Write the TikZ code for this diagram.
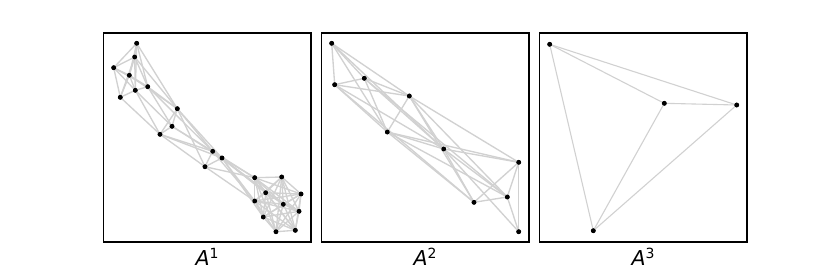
\documentclass[tikz,border=0pt]{standalone}
\usepackage{fontspec}
\setmainfont{DejaVu Sans}
\begin{document}
\begin{tikzpicture}[x=1pt, y=-1pt,
  dot/.style={circle, fill=black, inner sep=0pt, minimum size=4.6pt},
  edge/.style={draw=black!18, line width=1.35pt},
  frame/.style={draw=black, line width=1.1pt},
  lab/.style={anchor=base, inner sep=0pt, font=\fontsize{20.5}{24}\selectfont}]
\useasboundingbox (0,0) rectangle (830,277);
% panel frames
\draw[frame] (103.5,33) rectangle (311,242);
\draw[frame] (321.5,33) rectangle (529,242);
\draw[frame] (539.5,33) rectangle (747,242);
% panel 1 nodes
\node[dot] (a1) at (136.7,43.3) {};
\node[dot] (a2) at (134.7,57) {};
\node[dot] (a3) at (113.7,67.7) {};
\node[dot] (a4) at (129.3,75.3) {};
\node[dot] (a5) at (135.3,90.3) {};
\node[dot] (a6) at (147.7,86.7) {};
\node[dot] (a7) at (120.3,97.3) {};
\node[dot] (a8) at (177.3,108.7) {};
\node[dot] (a9) at (172,126.3) {};
\node[dot] (a10) at (160,134.3) {};
\node[dot] (a11) at (212.7,151.3) {};
\node[dot] (a12) at (222,158) {};
\node[dot] (a13) at (205,166.7) {};
\node[dot] (a14) at (254.7,177.7) {};
\node[dot] (a15) at (281.7,177) {};
\node[dot] (a16) at (265.7,192.7) {};
\node[dot] (a17) at (301,194) {};
\node[dot] (a18) at (254.7,201) {};
\node[dot] (a19) at (283.3,204.3) {};
\node[dot] (a20) at (299,211.3) {};
\node[dot] (a21) at (263.3,217) {};
\node[dot] (a22) at (276,231.7) {};
\node[dot] (a23) at (295.3,230.3) {};
% panel 2 nodes
\node[dot] (b1) at (331.7,43.3) {};
\node[dot] (b2) at (334.7,84.7) {};
\node[dot] (b3) at (364.3,78.3) {};
\node[dot] (b4) at (409.3,96) {};
\node[dot] (b5) at (387.3,132) {};
\node[dot] (b6) at (443.7,149) {};
\node[dot] (b7) at (518.7,162.3) {};
\node[dot] (b8) at (507.3,197) {};
\node[dot] (b9) at (474,202.3) {};
\node[dot] (b10) at (518.7,231.7) {};
% panel 3 nodes
\node[dot] (c1) at (549.7,44.3) {};
\node[dot] (c2) at (664.3,103.3) {};
\node[dot] (c3) at (736.7,105) {};
\node[dot] (c4) at (593.3,230.7) {};
% edges
\foreach \s/\t in {a1/a2, a1/a3, a1/a4, a1/a5, a1/a6, a1/a8,
    a2/a3, a2/a4, a2/a5, a2/a6, a2/a7, a2/a8,
    a3/a4, a3/a5, a3/a6, a3/a7,
    a4/a5, a4/a6, a4/a7, a4/a8,
    a5/a6, a5/a7, a5/a9, a5/a10,
    a6/a8, a6/a9, a6/a11, a7/a10,
    a8/a9, a8/a10, a8/a11, a8/a12, a8/a13,
    a9/a10, a9/a11, a9/a12,
    a10/a11, a10/a12, a10/a13,
    a11/a12, a11/a13, a11/a14, a11/a16, a11/a18,
    a12/a13, a12/a14, a12/a16, a12/a18, a12/a19, a12/a21,
    a13/a14, a13/a18}
  \draw[edge] (\s) -- (\t);
\foreach \i in {14,...,22} {
  \pgfmathtruncatemacro\k{\i+1}
  \foreach \j in {\k,...,23}
    \draw[edge] (a\i) -- (a\j);
}
\foreach \s/\t in {b1/b2, b1/b3, b1/b4, b1/b5, b1/b6,
    b2/b3, b2/b4, b2/b5, b2/b6, b2/b9,
    b3/b4, b3/b5, b3/b6, b3/b8,
    b4/b5, b4/b6, b4/b7, b4/b8, b4/b9,
    b5/b6, b5/b7, b5/b8, b5/b9,
    b6/b7, b6/b8, b6/b9, b6/b10,
    b7/b8, b7/b9, b7/b10, b8/b9, b8/b10}
  \draw[edge] (\s) -- (\t);
\foreach \s/\t in {c1/c2, c1/c3, c1/c4, c2/c3, c2/c4, c3/c4}
  \draw[edge, line width=1.1pt] (\s) -- (\t);
% dots again on top of the edges
\foreach \n in {a1,a2,a3,a4,a5,a6,a7,a8,a9,a10,a11,a12,a13,a14,a15,a16,a17,a18,a19,a20,a21,a22,a23,
    b1,b2,b3,b4,b5,b6,b7,b8,b9,b10,c1,c2,c3,c4}
  \fill (\n.center) circle (2.4pt);
% labels
\node[lab] (lab1) at (207,265) {\textit{A}\raisebox{7pt}{\fontsize{14}{14}\selectfont 1}};
\node[lab] (lab2) at (425,265) {\textit{A}\raisebox{7pt}{\fontsize{14}{14}\selectfont 2}};
\node[lab] (lab3) at (643,265) {\textit{A}\raisebox{7pt}{\fontsize{14}{14}\selectfont 3}};
\end{tikzpicture}
\end{document}
